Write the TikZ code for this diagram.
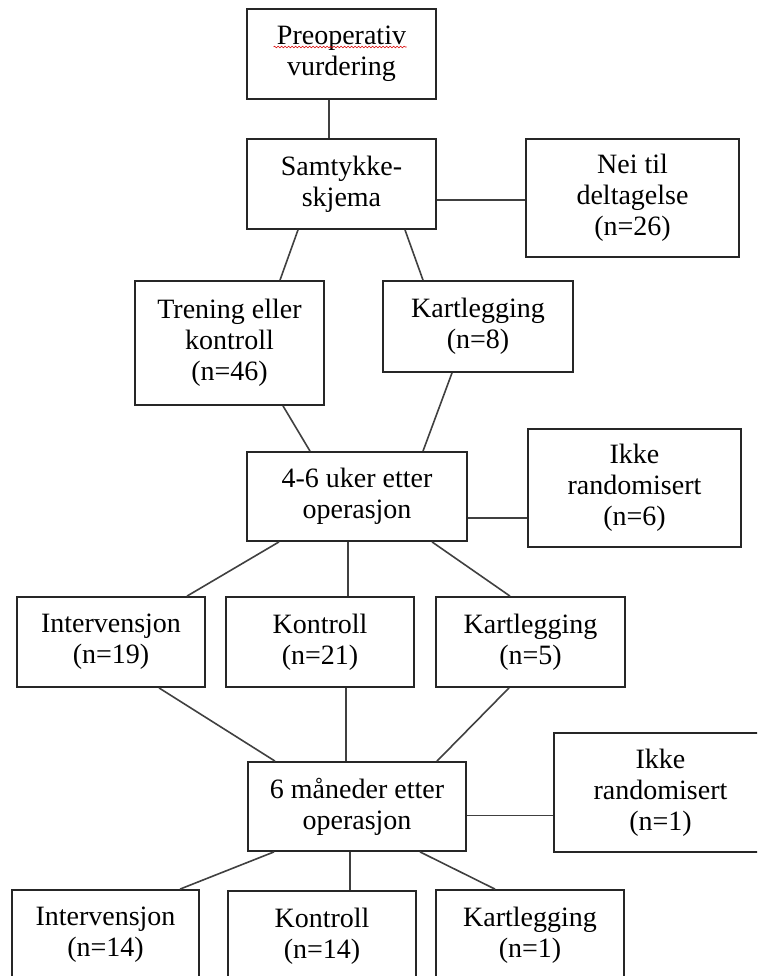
\documentclass[tikz,border=0pt]{standalone}
\usepackage{fontspec}
\setmainfont{Liberation Serif}
\usetikzlibrary{decorations.pathmorphing}
\begin{document}
\begin{tikzpicture}[x=1pt,y=-1pt,
  box/.style={draw=black!85, line width=1.8pt, align=center, inner sep=0pt,
    font=\fontsize{28}{31}\selectfont},
  conn/.style={draw=black!75, line width=1.6pt}]
\useasboundingbox (0,0) rectangle (757,976);
\clip (0,0) rectangle (757,976);
% boxes
\node[box, minimum width=189pt, minimum height=90pt] (pre) at (341.5,54) {Preoperativ\\vurdering};
\node[box, minimum width=189pt, minimum height=90pt] (sam) at (341.5,184) {Samtykke-\\skjema};
\node[box, minimum width=213pt, minimum height=118pt] (nei) at (632.5,198) {Nei til\\deltagelse\\(n=26)};
\node[box, minimum width=189pt, minimum height=124pt] (tre) at (229.5,343) {Trening eller\\kontroll\\(n=46)};
\node[box, minimum width=190pt, minimum height=91pt] (kar1) at (478,326.5) {Kartlegging\\(n=8)};
\node[box, minimum width=220pt, minimum height=89pt] (uke) at (357,496.5) {4-6 uker etter\\operasjon};
\node[box, minimum width=213pt, minimum height=118pt] (ikke1) at (634.5,488) {Ikke\\randomisert\\(n=6)};
\node[box, minimum width=188pt, minimum height=90pt] (int1) at (111,642) {Intervensjon\\(n=19)};
\node[box, minimum width=188pt, minimum height=90pt] (kon1) at (320,642) {Kontroll\\(n=21)};
\node[box, minimum width=189pt, minimum height=90pt] (kar2) at (530.5,642) {Kartlegging\\(n=5)};
\node[box, minimum width=218pt, minimum height=89pt] (mnd) at (357,806.5) {6 måneder etter\\operasjon};
\node[box, minimum width=213pt, minimum height=119pt] (ikke2) at (660.5,792.5) {Ikke\\randomisert\\(n=1)};
\node[box, minimum width=187pt, minimum height=90pt] (int2) at (105.5,935) {Intervensjon\\(n=14)};
\node[box, minimum width=188pt, minimum height=90pt] (kon2) at (322,936) {Kontroll\\(n=14)};
\node[box, minimum width=188pt, minimum height=90pt] (kar3) at (530,935) {Kartlegging\\(n=1)};
% spell-check underline
\draw[red!85!black, line width=0.6pt, decorate, decoration={snake, amplitude=0.8pt, segment length=3.5pt}]
  ([xshift=-68pt,yshift=7pt]pre.center) -- ([xshift=65pt,yshift=7pt]pre.center);
% connectors
\draw[conn] ([xshift=-12.5pt]pre.south) -- ([xshift=-12.5pt]pre.south |- sam.north);
\draw[conn] ([xshift=-43.5pt]sam.south) -- ([xshift=50.5pt]tre.north);
\draw[conn] ([xshift=63.5pt]sam.south) -- ([xshift=-55pt]kar1.north);
\draw[conn] ([yshift=-16pt]sam.east) -- ([yshift=-16pt]sam.east -| nei.west);
\draw[conn] ([xshift=53.5pt]tre.south) -- ([xshift=-47pt]uke.north);
\draw[conn] ([xshift=-26pt]kar1.south) -- ([xshift=66pt]uke.north);
\draw[conn] ([yshift=-21.5pt]uke.east) -- ([yshift=-21.5pt]uke.east -| ikke1.west);
\draw[conn] ([xshift=-78pt]uke.south) -- ([xshift=76pt]int1.north);
\draw[conn] ([xshift=-9pt]uke.south) -- ([xshift=-9pt]uke.south |- kon1.north);
\draw[conn] ([xshift=75pt]uke.south) -- ([xshift=-20.5pt]kar2.north);
\draw[conn] ([xshift=48pt]int1.south) -- ([xshift=-82pt]mnd.north);
\draw[conn] ([xshift=26pt]kon1.south) -- ([xshift=26pt]kon1.south |- mnd.north);
\draw[conn] ([xshift=-21.5pt]kar2.south) -- ([xshift=80pt]mnd.north);
\draw[conn] ([yshift=-9pt]mnd.east) -- ([yshift=-9pt]mnd.east -| ikke2.west);
\draw[conn] ([xshift=-83pt]mnd.south) -- ([xshift=74.5pt]int2.north);
\draw[conn] ([xshift=-7pt]mnd.south) -- ([xshift=-7pt]mnd.south |- kon2.north);
\draw[conn] ([xshift=63pt]mnd.south) -- ([xshift=-35pt]kar3.north);
\end{tikzpicture}
\end{document}
